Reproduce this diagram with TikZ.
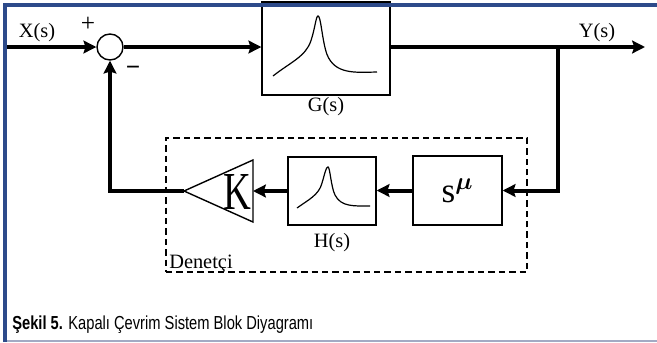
\documentclass[tikz,border=0pt]{standalone}
\usepackage{fontspec}
\usepackage{bm}
\setmainfont{Liberation Serif}
\newfontfamily\capfont[FakeStretch=0.78]{Liberation Sans}
\usepackage{tikz}
\usetikzlibrary{arrows.meta,positioning,fit,calc}
\definecolor{frblue}{HTML}{2D4A8A}
\definecolor{frgrey}{HTML}{A3AAC4}
\tikzset{
  blk/.style      = {draw, line width=0.35mm, inner sep=0pt},
  sumnode/.style  = {draw, circle, line width=0.35mm, minimum size=6.5mm,
                     inner sep=0pt},
  sig/.style      = {-{Stealth[length=3.2mm,width=3.2mm,inset=0.5mm]},
                     line width=1mm},
  resp/.style     = {line width=0.3mm},
  lbl/.style      = {font=\fontsize{14.5}{16}\selectfont, inner sep=0pt},
  ctrlbox/.style  = {draw, dashed, dash pattern=on 1.6mm off 1mm,
                     line width=0.5mm, inner sep=0pt},
  frame/.style    = {draw=frblue, line width=1mm},
  caption/.style  = {font=\capfont\fontsize{13.4}{14}\selectfont,
                     inner sep=0pt},
}

\begin{document}
\begin{tikzpicture}[x=0.25mm, y=-0.25mm]
  \useasboundingbox (0,0) rectangle (657,342);

  % ---------- forward path ----------------------------------------------
  \coordinate (xin)  at (5,47);
  \coordinate (yout) at (645,47);
  \node[sumnode] (sum) at (110,47) {};
  \node[blk, minimum width=32mm, minimum height=23.25mm] (G) at (326,48.5) {};
  \node[lbl] (Glbl) at (326,107) {G(s)};
  \node[lbl] (xlbl) at (37,33) {X(s)};
  \node[lbl] (ylbl) at (597,33) {Y(s)};
  \node[font=\fontsize{18}{18}\selectfont, inner sep=0pt] (plus) at (88,24) {+};
  \node[font=\fontsize{18}{18}\selectfont\bfseries, inner sep=0pt] (minus) at (133,71) {−};

  % resonance curve in G
  \draw[resp] ($(G.center)+(-53,27.5)$)
    .. controls ($(G.center)+(-36,14)$) and ($(G.center)+(-20,8)$) .. ($(G.center)+(-15,-8)$)
    .. controls ($(G.center)+(-11,-20)$) and ($(G.center)+(-10,-32.5)$) .. ($(G.center)+(-8,-32.5)$)
    .. controls ($(G.center)+(-5,-32.5)$) and ($(G.center)+(-4,-8)$) .. ($(G.center)+(1,6)$)
    .. controls ($(G.center)+(9,26)$) and ($(G.center)+(29,24)$) .. ($(G.center)+(51,23.5)$);

  % ---------- controller ------------------------------------------------
  \node[blk, minimum width=22.25mm, minimum height=17.25mm] (s) at (457.5,190.5)
    {\fontsize{25}{25}\selectfont s$^{\bm{\mu}}$};
  \node[blk, minimum width=22mm, minimum height=17mm] (H) at (332,191) {};
  \node[lbl] (Hlbl) at (332,243) {H(s)};

  % resonance curve in H
  \draw[resp] ($(H.center)+(-35,17)$)
    .. controls ($(H.center)+(-24,9)$) and ($(H.center)+(-13,4)$) .. ($(H.center)+(-10,-8)$)
    .. controls ($(H.center)+(-7,-18)$) and ($(H.center)+(-6,-24)$) .. ($(H.center)+(-4,-24)$)
    .. controls ($(H.center)+(-2,-24)$) and ($(H.center)+(-1,-4)$) .. ($(H.center)+(3,4)$)
    .. controls ($(H.center)+(9,16)$) and ($(H.center)+(22,15)$) .. ($(H.center)+(38,15)$);

  % gain K
  \coordinate (Ktop)  at (253,160);
  \coordinate (Kbot)  at (253,222);
  \coordinate (Kin)   at (253,191);
  \coordinate (Kapex) at (184,191);
  \draw[line width=0.35mm] (Ktop) -- (Kbot) -- (Kapex) -- cycle;
  \node[font=\fontsize{38}{38}\selectfont, xscale=0.72, transform shape,
        inner sep=0pt] (K) at (237,192) {K};

  % dashed controller boundary
  \coordinate (c1) at (166,138);
  \coordinate (c2) at (527,272);
  \node[ctrlbox, fit=(c1)(c2)] (ctrl) {};
  \node[lbl, anchor=base west] (ctrllbl) at (169,268) {Denetçi};

  % ---------- connectors ------------------------------------------------
  \draw[sig] (xin) -- (sum.west);
  \draw[sig] (sum.east) -- (sum.east -| G.west);
  \draw[sig] (yout -| G.east) -- (yout);
  \coordinate (br) at (558,47);
  \draw[sig] (br) |- (s.east);
  \draw[sig] (s.west) -- (s.west -| H.east);
  \draw[sig] (H.west) -- (Kin);
  \draw[sig] (Kapex) -| (sum.south);

  % ---------- frame and caption -----------------------------------------
  \draw[frame] (5,342) -- (5,5) -- (657,5);
  \draw[frgrey, line width=0.4mm] (7,341) -- (657,341);
  \node[caption, anchor=base west] (cap) at (12,329)
    {\textbf{Şekil 5.} Kapalı Çevrim Sistem Blok Diyagramı};

\end{tikzpicture}
\end{document}
